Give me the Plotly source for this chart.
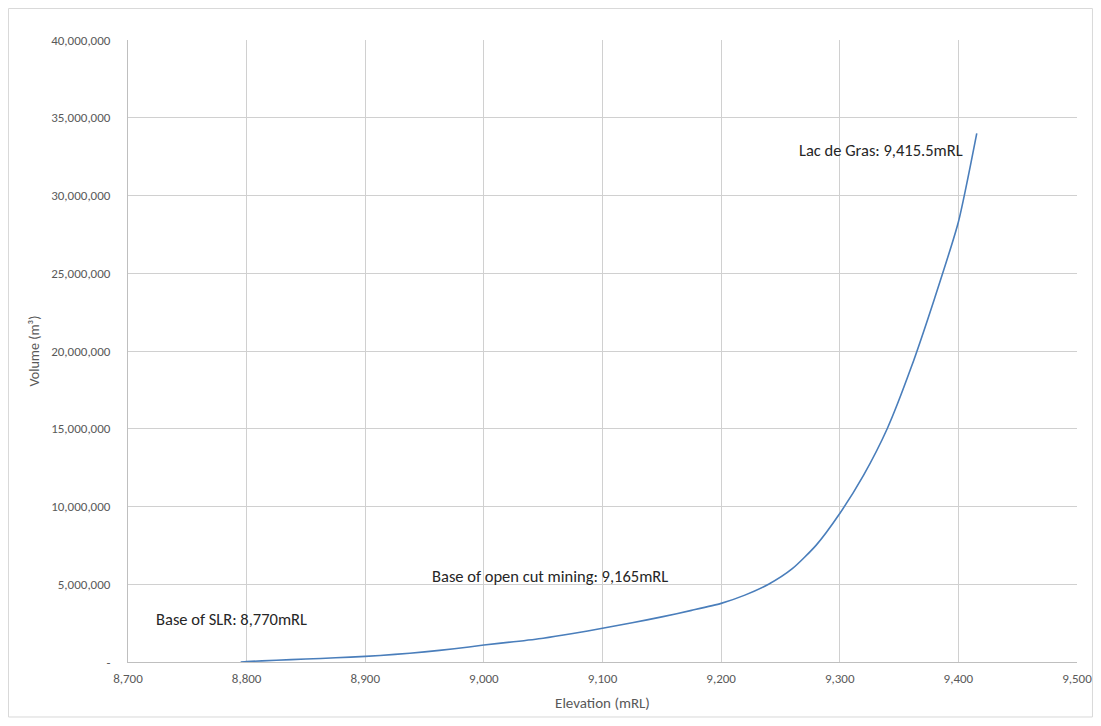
import plotly.graph_objects as go

elevation = [8795, 8800, 8825, 8850, 8875, 8900, 8925, 8950, 8975, 9000, 9025, 9050, 9075, 9100,
             9125, 9150, 9175, 9200, 9220, 9240, 9260, 9280, 9300, 9320, 9340, 9360, 9380, 9400, 9415.5]
volume = [0, 30000, 110000, 190000, 270000, 360000, 490000, 650000, 850000, 1090000, 1300000, 1530000,
          1830000, 2170000, 2520000, 2900000, 3320000, 3770000, 4300000, 5000000, 6000000, 7500000,
          9550000, 12000000, 15000000, 18900000, 23400000, 28300000, 34000000]

y_tickvals = [0, 5e6, 10e6, 15e6, 20e6, 25e6, 30e6, 35e6, 40e6]
y_ticktext = ["-", "5,000,000", "10,000,000", "15,000,000", "20,000,000", "25,000,000",
              "30,000,000", "35,000,000", "40,000,000"]
x_tickvals = [8700, 8800, 8900, 9000, 9100, 9200, 9300, 9400, 9500]
x_ticktext = ["8,700", "8,800", "8,900", "9,000", "9,100", "9,200", "9,300", "9,400", "9,500"]

labels = ["Lac de Gras: 9,415.5mRL", "Base of open cut mining: 9,165mRL", "Base of SLR: 8,770mRL"]
label_x = [9266, 8956, 8724]
label_y = [32900000, 5530000, 2770000]

FONT = "Carlito, Lato, Liberation Sans, sans-serif"

fig = go.Figure()
fig.add_trace(go.Scatter(x=elevation, y=volume, mode="lines",
                         line=dict(color="#4a7ebb", width=1.6, shape="spline", smoothing=0.6),
                         showlegend=False, hoverinfo="x+y"))

for t, lx, ly in zip(labels, label_x, label_y):
    fig.add_annotation(x=lx, y=ly, text=t, showarrow=False, xanchor="left", yanchor="middle",
                       xshift=-2, font=dict(family=FONT, size=16.5, color="#262626"))

fig.add_shape(type="rect", xref="paper", yref="paper", x0=-0.1259, x1=1.0163, y0=-0.0884, y1=1.0506,
              line=dict(color="#d9d9d9", width=1), layer="below")

fig.update_layout(
    width=1085, height=710,
    margin=dict(l=120, r=16, t=32, b=56, autoexpand=False),
    paper_bgcolor="white", plot_bgcolor="white",
    font=dict(family=FONT, color="#595959"),
    xaxis=dict(range=[8700, 9500], tickvals=x_tickvals, ticktext=x_ticktext,
               showgrid=True, gridcolor="#d0d0d0", gridwidth=1, automargin=False,
               showline=True, linecolor="#bfbfbf", linewidth=1, mirror=False,
               zeroline=False, tickfont=dict(size=13, color="#595959"),
               ticks="", ticklabelstandoff=4,
               title=dict(text="Elevation (mRL)", font=dict(size=15, color="#595959"), standoff=12)),
    yaxis=dict(range=[0, 40e6], tickvals=y_tickvals, ticktext=y_ticktext,
               showgrid=True, gridcolor="#d0d0d0", gridwidth=1, automargin=False,
               showline=True, linecolor="#bfbfbf", linewidth=1,
               zeroline=False, tickfont=dict(size=13, color="#595959"),
               ticks="", ticklabelstandoff=14,
               title=dict(text="Volume (m³)", font=dict(size=14, color="#595959"), standoff=8)),
)

fig.write_html("out.html")
